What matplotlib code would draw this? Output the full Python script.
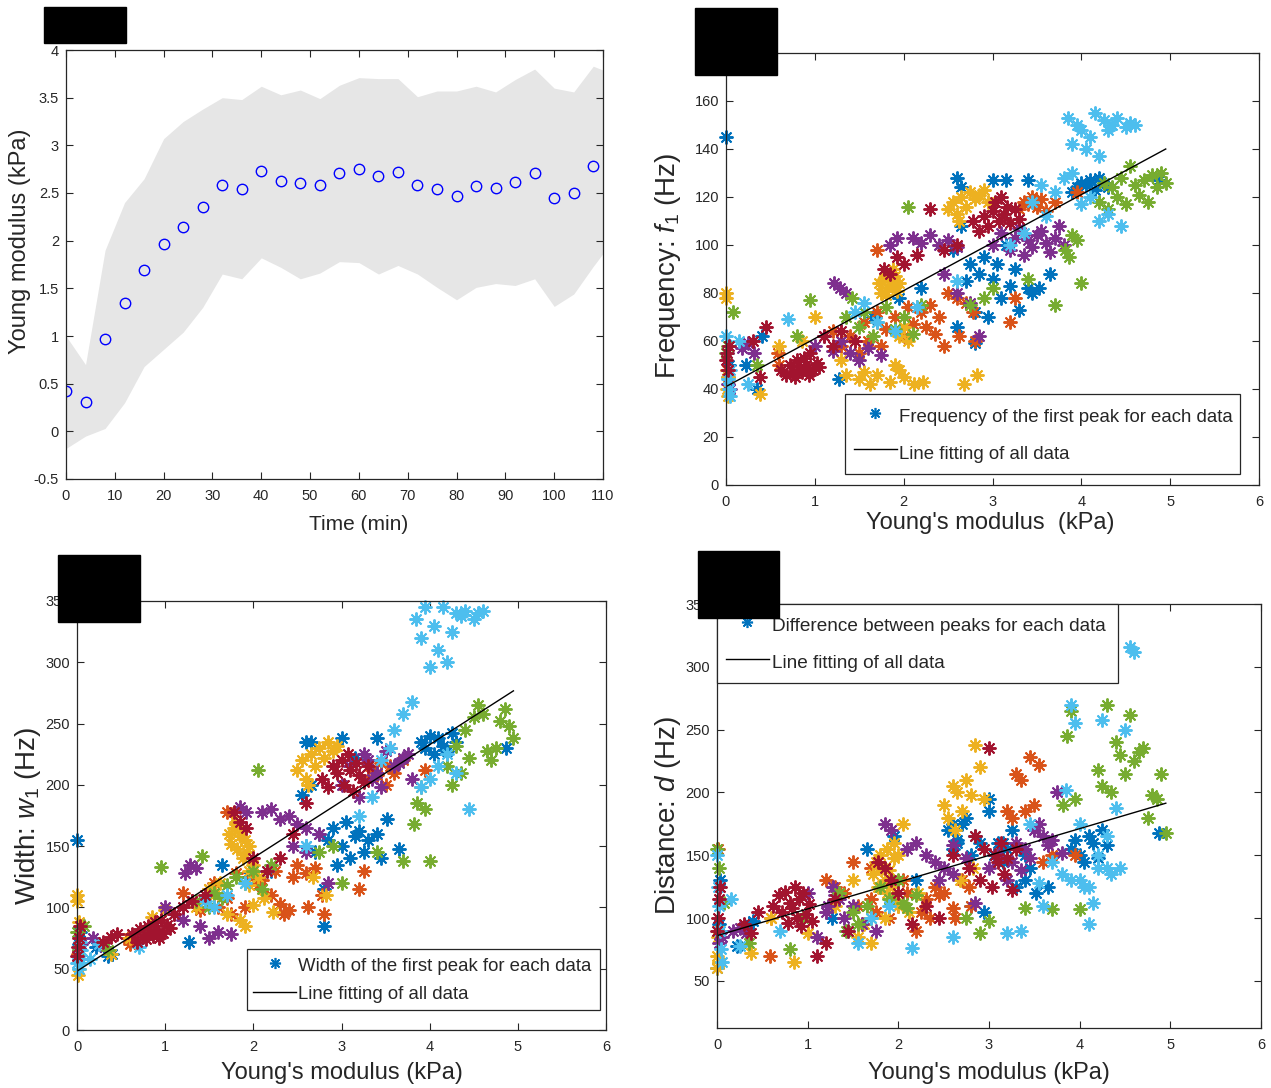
"""
Four-panel figure: Young modulus over time, then f1 / w1 / d against modulus.
"""

import matplotlib
matplotlib.use("Agg")
import matplotlib.pyplot as plt
from matplotlib.lines import Line2D
from matplotlib.patches import Rectangle
from matplotlib.ticker import FormatStrFormatter

# ── Fonts ─────────────────────────────────────────────────────────────────────

plt.rcParams["font.family"] = ["Liberation Sans", "DejaVu Sans"]
plt.rcParams["mathtext.fontset"] = "custom"
plt.rcParams["mathtext.rm"] = "Liberation Sans"
plt.rcParams["mathtext.it"] = "Liberation Sans:italic"

# ── Panel 1 data: modulus vs time ─────────────────────────────────────────────

time_min = [0, 4, 8, 12, 16, 20, 24, 28, 32, 36, 40, 44, 48, 52,
            56, 60, 64, 68, 72, 76, 80, 84, 88, 92, 96, 100, 104, 108]
modulus_mean = [0.42, 0.31, 0.97, 1.35, 1.69, 1.97, 2.14, 2.35, 2.58, 2.54,
                2.73, 2.63, 2.60, 2.58, 2.71, 2.75, 2.68, 2.72, 2.58, 2.54,
                2.47, 2.57, 2.55, 2.62, 2.71, 2.45, 2.50, 2.78]
band_time = time_min + [112]
band_upper = [1.0, 0.7, 1.9, 2.4, 2.65, 3.07, 3.25, 3.38, 3.5, 3.48, 3.62,
              3.53, 3.58, 3.49, 3.63, 3.71, 3.70, 3.70, 3.51, 3.57, 3.57,
              3.62, 3.56, 3.69, 3.80, 3.60, 3.56, 3.83, 3.75]
band_lower = [-0.18, -0.05, 0.03, 0.3, 0.68, 0.86, 1.04, 1.3, 1.65, 1.6, 1.82,
              1.72, 1.6, 1.66, 1.78, 1.77, 1.65, 1.74, 1.65, 1.51, 1.38,
              1.51, 1.55, 1.53, 1.6, 1.31, 1.44, 1.73, 2.0]

# ── Scatter data, one group per colour: modulus, f1, w1, d ────────────────────

modulus_blue = [0.0, 0.02, 0.03, 0.22, 0.35, 0.4, 1.27, 1.65, 1.95, 2.2,
                2.55, 2.6, 2.65, 2.7, 2.75, 2.8, 2.85, 2.9, 2.95, 3.0, 3.05, 3.1, 3.15, 3.2, 3.25, 3.3, 3.4, 3.45,
                2.6, 2.65, 3.0, 3.15, 3.4, 2.8, 3.52, 3.65,
                3.9, 3.95, 4.0, 4.05, 4.1, 4.15, 4.2, 4.25, 4.3, 4.87]
freq_blue = [145, 45, 50, 50, 40, 62, 44, 70, 78, 82,
             98, 66, 108, 85, 92, 72, 88, 95, 70, 86, 92, 78, 100, 83, 90, 73, 82, 80,
             128, 124, 127, 127, 127, 59, 82, 88,
             122, 124, 126, 125, 127, 123, 128, 126, 124, 127]
width_blue = [155, 70, 80, 68, 60, 62, 72, 135, 125, 130,
              192, 150, 200, 145, 160, 115, 155, 165, 135, 150, 170, 140, 158, 162, 145, 155, 160, 140,
              235, 235, 238, 222, 238, 85, 172, 148,
              235, 230, 240, 225, 238, 232, 228, 242, 235, 230]
dist_blue = [60, 95, 130, 78, 95, 98, 100, 155, 165, 130,
             170, 155, 160, 175, 180, 150, 165, 160, 105, 185, 150, 160, 145, 155, 170, 125, 130, 140,
             175, 162, 195, 160, 150, 110, 120, 125,
             155, 162, 150, 145, 165, 160, 148, 170, 158, 168]

modulus_orange = [0.01, 0.58, 0.6,
                  1.2, 1.3, 1.4, 1.5, 1.55, 1.6, 1.7, 1.75, 1.8, 1.9, 2.0, 2.05, 2.1, 2.2, 2.25, 2.3, 2.35, 2.4, 2.45,
                  2.5, 2.6, 2.7, 2.78, 2.62, 2.8, 3.2, 3.25,
                  3.3, 3.35, 3.4, 3.45, 3.5, 3.55, 3.6, 3.7, 1.7, 3.95]
freq_orange = [48, 55, 50,
               64, 58, 62, 55, 68, 60, 72, 58, 65, 70, 62, 74, 67, 72, 66, 75, 63, 70, 58,
               80, 78, 76, 72, 62, 60, 68, 78,
               115, 118, 117, 120, 116, 119, 114, 118, 98, 122]
width_orange = [62, 75, 70,
                112, 105, 98, 115, 120, 100, 108, 95, 128, 100, 125, 118, 122, 110, 130, 103, 95, 98, 125,
                135, 128, 132, 110, 100, 95, 115, 130,
                205, 212, 208, 218, 200, 215, 210, 220, 178, 212]
dist_orange = [155, 70, 100,
               130, 125, 120, 145, 110, 95, 115, 105, 125, 100, 110, 130, 120, 90, 105, 115, 100, 125, 118,
               120, 108, 130, 125, 100, 110, 185, 180,
               215, 210, 185, 228, 190, 222, 145, 150, 140, 150]

modulus_yellow = [0.0, 0.0, 0.01, 0.02, 0.02, 0.38, 0.6, 0.85, 1.0,
                  1.3, 1.35, 1.5, 1.55, 1.62, 1.7, 1.85, 1.9, 1.95, 2.0, 2.12, 2.22, 2.68, 2.82,
                  1.72, 1.75, 1.78, 1.8, 1.82, 1.85, 1.87, 1.9, 1.93, 1.95, 1.8, 1.88,
                  2.5, 2.55, 2.6, 2.65, 2.7, 2.75, 2.8, 2.85, 2.9, 2.95, 2.62,
                  1.95, 2.0, 2.05]
freq_yellow = [80, 78, 40, 37, 45, 38, 58, 60, 70,
               52, 46, 44, 47, 42, 46, 43, 50, 48, 45, 42, 43, 42, 46,
               84, 80, 86, 88, 82, 85, 83, 87, 81, 84, 79, 90,
               115, 118, 113, 120, 116, 122, 119, 121, 123, 118, 110,
               62, 66, 60]
width_yellow = [105, 110, 45, 50, 88, 62, 75, 92, 98,
                105, 100, 115, 110, 120, 95, 90, 85, 118, 102, 108, 96, 125, 110,
                160, 152, 165, 170, 148, 158, 162, 155, 145, 150, 168, 140,
                212, 220, 205, 225, 215, 230, 222, 235, 228, 232, 200,
                130, 135, 125]
dist_yellow = [60, 70, 85, 90, 65, 72, 100, 65, 88,
               110, 120, 130, 85, 95, 80, 100, 125, 115, 110, 105, 120, 130, 140,
               135, 145, 125, 150, 140, 130, 155, 138, 128, 148, 142, 120,
               190, 180, 205, 200, 185, 210, 198, 238, 220, 195, 170,
               160, 150, 175]

modulus_purple = [0.02, 0.05, 0.18, 0.25, 0.32,
                  1.0, 1.1, 1.2, 1.3, 1.4, 1.5, 1.6, 1.75,
                  1.22, 1.28, 1.35, 1.85, 1.92,
                  2.1, 2.2, 2.3, 2.4, 2.5, 2.6,
                  2.45, 2.6, 2.75, 2.85,
                  3.0, 3.1, 3.2, 3.25, 3.3, 3.35, 3.4, 3.45, 3.5, 3.55, 3.6, 3.65, 3.7, 3.75, 3.8]
freq_purple = [42, 40, 57, 59, 55,
               58, 62, 56, 60, 55, 52, 57, 54,
               84, 82, 80, 100, 103,
               103, 101, 104, 100, 102, 99,
               88, 80, 76, 62,
               100, 105, 98, 103, 107, 96, 102, 99, 104, 106, 101, 97, 103, 108, 100]
width_purple = [65, 70, 75, 70, 68,
                100, 95, 90, 105, 85, 75, 80, 78,
                128, 135, 132, 182, 178,
                178, 180, 172, 175, 168, 165,
                150, 145, 160, 120,
                200, 215, 190, 225, 220, 205, 210, 198, 228, 230, 215, 218, 222, 225, 205]
dist_purple = [80, 85, 90, 92, 88,
               120, 85, 105, 118, 100, 110, 95, 90,
               110, 125, 115, 175, 170,
               155, 160, 150, 145, 140, 158,
               130, 135, 148, 112,
               140, 150, 130, 145, 160, 138, 155, 148, 170, 175, 165, 158, 162, 200, 152]

modulus_green = [0.0, 0.02, 0.08, 0.35, 0.8, 0.95,
                 1.35, 1.42, 1.5, 1.55, 1.65, 1.7, 1.8, 1.9, 2.0, 2.1, 2.2,
                 2.05, 2.75, 2.9, 3.0, 3.4, 3.7, 4.0,
                 3.82, 3.86, 3.9, 3.95,
                 4.2, 4.25, 4.3, 4.35, 4.4, 4.45, 4.5, 4.55, 4.6, 4.65, 4.7, 4.75, 4.8, 4.85, 4.9, 4.95]
freq_green = [55, 58, 72, 50, 62, 77,
              70, 78, 66, 72, 62, 68, 74, 65, 70, 63, 75,
              116, 75, 78, 82, 86, 75, 84,
              98, 95, 104, 102,
              118, 126, 115, 124, 120, 128, 117, 133, 125, 121, 127, 118, 129, 124, 130, 126]
width_green = [80, 65, 85, 65, 80, 133,
               105, 142, 100, 112, 108, 118, 125, 120, 130, 115, 135,
               212, 145, 150, 120, 145, 138, 138,
               168, 185, 198, 180,
               215, 200, 232, 210, 245, 222, 255, 265, 258, 228, 220, 230, 252, 262, 248, 238]
dist_green = [155, 140, 112, 80, 75, 100,
              120, 90, 105, 95, 110, 100, 125, 115, 130, 108, 118,
              112, 100, 88, 98, 108, 107, 107,
              190, 245, 265, 195,
              218, 205, 270, 200, 240, 230, 215, 262, 225, 232, 235, 180, 198, 195, 215, 168]

modulus_cyan = [0.0, 0.01, 0.02, 0.03, 0.04, 0.05, 0.15, 0.25, 0.7,
                1.45, 1.55, 1.7, 1.9, 2.15, 2.6, 3.2, 3.35,
                3.45, 3.55, 3.6, 3.7, 3.8, 3.9, 4.0, 4.1, 4.2, 4.3,
                3.85, 3.9, 3.95, 4.0, 4.05, 4.1, 4.15, 4.2, 4.25, 4.3, 4.35, 4.4, 4.5, 4.55, 4.6, 4.45]
freq_cyan = [62, 55, 44, 40, 48, 37, 60, 42, 69,
             72, 76, 68, 64, 74, 85, 100, 105,
             118, 125, 112, 122, 128, 130, 117, 120, 110, 113,
             153, 142, 150, 148, 140, 145, 155, 137, 152, 148, 150, 153, 149, 151, 150, 108]
width_cyan = [55, 60, 50, 72, 65, 58, 58, 70, 68,
              105, 100, 110, 120, 130, 150, 175, 190,
              220, 230, 245, 258, 268, 198, 205, 215, 225, 210,
              335, 320, 345, 296, 330, 310, 345, 300, 325, 340, 338, 342, 335, 340, 342, 180]
dist_cyan = [150, 125, 110, 90, 75, 65, 115, 78, 90,
             90, 80, 100, 110, 76, 85, 88, 90,
             175, 128, 110, 145, 135, 130, 175, 125, 140, 165,
             202, 270, 255, 130, 125, 95, 112, 150, 258, 140, 135, 188, 250, 316, 312, 140]

modulus_red = [0.0, 0.01, 0.02, 0.03, 0.3, 0.38, 0.45,
               0.62, 0.68, 0.72, 0.75, 0.78, 0.80, 0.83, 0.86, 0.88, 0.90, 0.93, 0.95, 0.98, 1.02, 1.05,
               1.1, 1.2, 1.3, 1.45, 1.78, 1.85, 1.92, 2.0,
               2.15, 2.3, 2.45, 2.6,
               2.78, 2.85, 2.9, 2.95, 3.0, 3.03, 3.07, 3.1, 3.13, 3.16, 3.2, 3.25, 3.3]
freq_red = [52, 55, 48, 58, 60, 45, 66,
            48, 46, 50, 47, 45, 52, 49, 47, 53, 50, 46, 55, 48, 51, 49,
            62, 58, 64, 60, 90, 88, 95, 92,
            96, 115, 98, 100,
            110, 106, 112, 108, 114, 118, 110, 120, 113, 116, 109, 115, 111]
width_red = [60, 68, 75, 85, 72, 76, 78,
             78, 72, 82, 76, 74, 85, 80, 77, 88, 82, 75, 90, 79, 86, 83,
             95, 100, 105, 110, 178, 170, 165, 140,
             130, 140, 160, 185,
             205, 198, 215, 210, 220, 200, 225, 212, 195, 218, 208, 202, 215]
dist_red = [90, 100, 115, 125, 95, 88, 105,
            110, 118, 105, 121, 96, 112, 108, 125, 100, 115, 94, 120, 103, 111, 98,
            70, 80, 115, 90, 145, 140, 130, 120,
            95, 110, 100, 150,
            140, 165, 130, 155, 235, 125, 150, 145, 160, 135, 148, 122, 155]

# fitted lines (slope, intercept)
fit_freq = (20.0, 41.0)
fit_width = (46.2, 48.0)
fit_dist = (21.3, 86.0)

# ── Styling ───────────────────────────────────────────────────────────────────

AX_COLOR = "#262626"
GROUPS = [
    ("#0072BD", modulus_blue, freq_blue, width_blue, dist_blue),
    ("#D95319", modulus_orange, freq_orange, width_orange, dist_orange),
    ("#EDB120", modulus_yellow, freq_yellow, width_yellow, dist_yellow),
    ("#7E2F8E", modulus_purple, freq_purple, width_purple, dist_purple),
    ("#77AC30", modulus_green, freq_green, width_green, dist_green),
    ("#4DBEEE", modulus_cyan, freq_cyan, width_cyan, dist_cyan),
    ("#A2142F", modulus_red, freq_red, width_red, dist_red),
]
STAR = (8, 2, 0)

W, H = 1271, 1088


def px_axes(left, top, right, bottom):
    return [left / W, 1 - bottom / H, (right - left) / W, (bottom - top) / H]


def style_axes(ax):
    for sp in ax.spines.values():
        sp.set_color(AX_COLOR)
        sp.set_linewidth(0.9)
    ax.tick_params(direction="in", length=5, width=0.8, colors=AX_COLOR,
                   labelsize=10.5, top=True, right=True)
    ax.tick_params(axis="x", pad=7)
    ax.tick_params(axis="y", pad=5)


fig = plt.figure(figsize=(W / 100, H / 100), dpi=100)

# ── Panel 1 ───────────────────────────────────────────────────────────────────

ax1 = fig.add_axes(px_axes(66, 50, 603, 479))
ax1.fill_between(band_time, band_lower, band_upper, color="#E6E6E6", lw=0)
ax1.plot(time_min, modulus_mean, "o", mfc="none", mec="#0000FF", ms=7.5, mew=1.0)
ax1.set_xlim(0, 110)
ax1.set_ylim(-0.5, 4)
ax1.set_xticks(range(0, 111, 10))
ax1.set_yticks([-0.5, 0, 0.5, 1, 1.5, 2, 2.5, 3, 3.5, 4])
ax1.yaxis.set_major_formatter(FormatStrFormatter("%g"))
style_axes(ax1)
ax1.text(0.544, -0.107, "Time (min)", transform=ax1.transAxes, ha="center",
         va="center", fontsize=15, color=AX_COLOR)
ax1.text(-0.085, 0.555, "Young modulus (kPa)", transform=ax1.transAxes,
         ha="center", va="center", rotation=90, fontsize=17, color=AX_COLOR)

# ── Panels 2-4 ────────────────────────────────────────────────────────────────

scatter_panels = [
    dict(rect=px_axes(726, 53, 1259, 485), col=2, fit=fit_freq, ylim=(0, 180),
         yticks=range(0, 181, 20),
         ylabel=r"Frequency: $\mathit{f_1}$ (Hz)", xlabel="Young's modulus  (kPa)",
         ylab_pos=(-0.109, 0.507), xlab_pos=(0.495, -0.088),
         legend_text="Frequency of the first peak for each data",
         leg=dict(loc="lower left", bbox_to_anchor=(0.223, 0.025, 0.741, 0.19)),
         leg_fs=13.4, leg_sp=0.6, leg_hh=1.72, leg_pad=0.48),
    dict(rect=px_axes(77, 601, 606, 1030), col=3, fit=fit_width, ylim=(0, 350),
         yticks=range(0, 351, 50),
         ylabel=r"Width: $\mathit{w_1}$ (Hz)", xlabel="Young's modulus (kPa)",
         ylab_pos=(-0.093, 0.50), xlab_pos=(0.50, -0.10),
         legend_text="Width of the first peak for each data",
         leg=dict(loc="lower left", bbox_to_anchor=(0.321, 0.047, 0.668, 0.144)),
         leg_fs=13.4, leg_sp=0.5, leg_hh=1.14, leg_pad=0.35),
    dict(rect=px_axes(717, 604, 1261, 1028), col=4, fit=fit_dist, ylim=(12.5, 350),
         yticks=range(50, 351, 50),
         ylabel=r"Distance: $\mathit{d}$ (Hz)", xlabel="Young's modulus (kPa)",
         ylab_pos=(-0.09, 0.502), xlab_pos=(0.50, -0.106),
         legend_text="Difference between peaks for each data",
         leg=dict(loc="upper left", bbox_to_anchor=(0.0, 0.811, 0.737, 0.189)),
         leg_fs=13.7, leg_sp=0.7, leg_hh=1.58, leg_pad=0.45),
]

for p in scatter_panels:
    ax = fig.add_axes(p["rect"])
    all_x = []
    for g in GROUPS:
        assert len(g[1]) == len(g[p["col"]]), g[0]
        ax.plot(g[1], g[p["col"]], linestyle="none", marker=STAR, ms=10,
                mew=1.4, color=g[0], clip_on=False)
        all_x += g[1]
    slope, icpt = p["fit"]
    xs = [min(all_x), max(all_x)]
    ax.plot(xs, [icpt + slope * x for x in xs], color="black", lw=1.0)
    ax.set_xlim(0, 6)
    ax.set_ylim(*p["ylim"])
    ax.set_xticks(range(0, 7))
    ax.set_yticks(list(p["yticks"]))
    style_axes(ax)
    ax.text(*p["xlab_pos"], p["xlabel"], transform=ax.transAxes, ha="center",
            va="center", fontsize=17, color=AX_COLOR)
    ax.text(*p["ylab_pos"], p["ylabel"], transform=ax.transAxes, ha="center",
            va="center", rotation=90, fontsize=20, color=AX_COLOR)

    handles = [
        Line2D([], [], linestyle="none", marker=STAR, ms=8, mew=1.2, color="#0072BD"),
        Line2D([], [], color="black", lw=1.0),
    ]
    leg = ax.legend(handles, [p["legend_text"], "Line fitting of all data"],
                    mode="expand", fontsize=p["leg_fs"], frameon=True,
                    fancybox=False, edgecolor=AX_COLOR, framealpha=1,
                    handlelength=2.3, handleheight=p["leg_hh"],
                    handletextpad=0.12, labelspacing=p["leg_sp"],
                    borderpad=p["leg_pad"], borderaxespad=0, **p["leg"])
    leg.get_frame().set_linewidth(0.9)
    for t in leg.get_texts():
        t.set_color(AX_COLOR)

# ── Black cover boxes over the panel letters ──────────────────────────────────

for (x0, y0, x1, y1) in [(44, 7, 126, 43), (695, 8, 777, 75),
                         (58, 555, 140, 622), (698, 551, 779, 618)]:
    fig.add_artist(Rectangle((x0 / W, 1 - y1 / H), (x1 - x0) / W, (y1 - y0) / H,
                             transform=fig.transFigure, color="black", zorder=20))

fig.savefig("out.png", dpi=100)
